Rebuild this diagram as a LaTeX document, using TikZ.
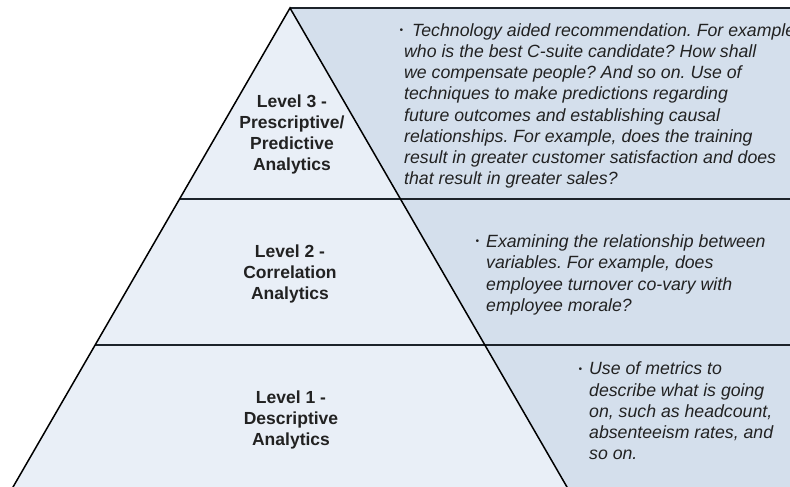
\documentclass[tikz,border=0pt]{standalone}
\usepackage{fontspec}
\setmainfont{Liberation Sans}
\frenchspacing

\definecolor{tierfill}{HTML}{E9EFF7}
\definecolor{notefill}{HTML}{D4DFEC}
\definecolor{ink}{HTML}{222222}
\definecolor{rulecol}{HTML}{1C232A}

\newcommand\dotmark{\raisebox{0.3ex}{\fontsize{10}{10}\selectfont\textbullet}}

\begin{document}
\begin{tikzpicture}[x=1pt, y=-1pt,
  level/.style={font=\fontsize{17.5}{21}\selectfont\bfseries, text=ink, align=center, inner sep=0pt},
  note/.style={font=\fontsize{17.7}{21.2}\selectfont\itshape, text=ink, align=left, inner sep=0pt, anchor=west},
  edge/.style={line width=1.5pt, black},
  divider/.style={line width=1.8pt, rulecol}]

\useasboundingbox (0,0) rectangle (790,487);
\clip (0,0) rectangle (790,487);

% corners
\coordinate (apex) at (290,8);
\coordinate (L2) at (179.6,199);
\coordinate (L1) at (95.1,345);
\coordinate (R2) at (400.4,199);
\coordinate (R1) at (484.9,345);
\coordinate (BL) at (8.4,495);
\coordinate (BR) at (571.6,495);

% fills
\fill[notefill] (apex) -- (800,8) -- (800,495) -- (BR) -- cycle;
\fill[tierfill] (apex) -- (BR) -- (BL) -- cycle;

% lines
\draw[divider] (apex) -- (800,8);
\draw[divider] (L2) -- (800,199);
\draw[divider] (L1) -- (800,345);
\draw[edge] (BL) -- (apex) -- (BR);

% level labels
\node[level] (lvl3) at (292,134) {Level 3 -\\Prescriptive/\\Predictive\\Analytics};
\node[level] (lvl2) at (290,274) {Level 2 -\\Correlation\\Analytics};
\node[level] (lvl1) at (291,420) {Level 1 -\\Descriptive\\Analytics};

% notes
\node[note] (note3) at (404,106) {\llap{\dotmark\hspace{1pt}}\hspace*{8pt}Technology aided recommendation. For example\\
who is the best C-suite candidate? How shall\\
we compensate people? And so on. Use of\\
techniques to make predictions regarding\\
future outcomes and establishing causal\\
relationships. For example, does the training\\
result in greater customer satisfaction and does\\
that result in greater sales?};
\node[note] (note2) at (486,275) {\llap{\dotmark\hspace{7pt}}Examining the relationship between\\
variables. For example, does\\
employee turnover co-vary with\\
employee morale?};
\node[note] (note1) at (589,411) {\llap{\dotmark\hspace{7pt}}Use of metrics to\\
describe what is going\\
on, such as headcount,\\
absenteeism rates, and\\
so on.};

\end{tikzpicture}
\end{document}
